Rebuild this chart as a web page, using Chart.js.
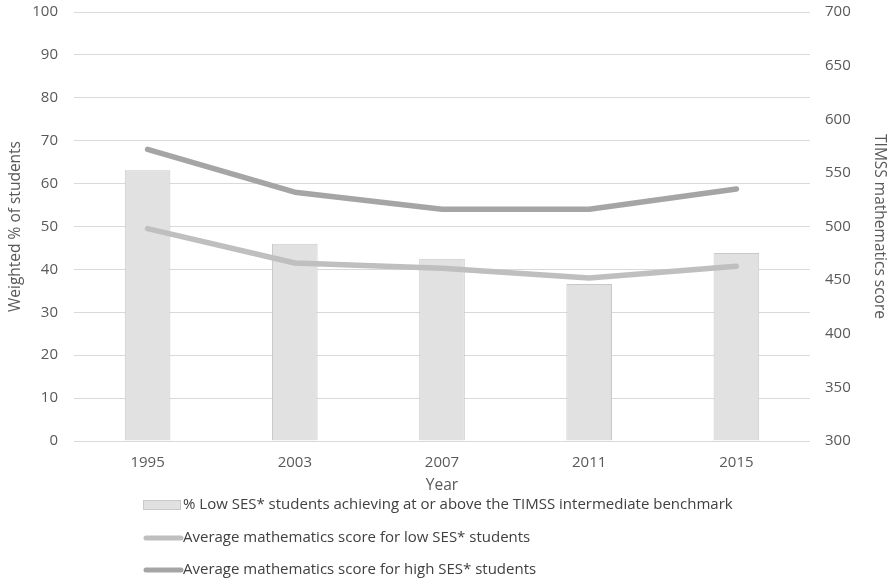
<!DOCTYPE html>
<html>
<head>
<meta charset="utf-8">
<script src="https://cdn.jsdelivr.net/npm/chart.js@4.4.1/dist/chart.umd.min.js"></script>
<style>
    html, body { margin: 0; padding: 0; background: #ffffff; }
    #wrap { width: 893px; height: 583px; }
</style>
</head>
<body>
<div id="wrap"><canvas id="chart" width="893" height="583"></canvas></div>
<script>
// Chart data
const years = ['1995', '2003', '2007', '2011', '2015'];
const pctLowSES = [63.1, 46.0, 42.5, 36.6, 43.8];
const scoreLowSES = [498, 466, 461, 452, 463];
const scoreHighSES = [572, 532, 516, 516, 535];

const seriesLabels = [
    '% Low SES* students achieving at or above the TIMSS intermediate benchmark',
    'Average mathematics score for low SES* students',
    'Average mathematics score for high SES* students'
];

const textColor = '#595959';
const gridColor = '#d9d9d9';
const fontFamily = "'Open Sans', 'DejaVu Sans', sans-serif";

// Legend drawn as a vertical list under the x axis title
const stackedLegend = {
    id: 'stackedLegend',
    afterDraw(chart) {
        const ctx = chart.ctx;
        const x0 = 143;
        const rows = [505, 538, 570];
        ctx.save();
        ctx.font = '15px ' + fontFamily;
        ctx.textBaseline = 'middle';
        ctx.textAlign = 'left';
        chart.data.datasets.forEach((ds, i) => {
            const y = rows[i];
            if (ds.type === 'bar') {
                ctx.fillStyle = ds.backgroundColor;
                ctx.fillRect(x0, y - 5, 38, 10);
                ctx.strokeStyle = ds.borderColor;
                ctx.lineWidth = 1;
                ctx.strokeRect(x0 + 0.5, y - 4.5, 37, 9);
            } else {
                ctx.strokeStyle = ds.borderColor;
                ctx.lineWidth = 5;
                ctx.lineCap = 'round';
                ctx.beginPath();
                ctx.moveTo(x0 + 3, y);
                ctx.lineTo(x0 + 38, y);
                ctx.stroke();
            }
            ctx.fillStyle = '#404040';
            ctx.fillText(ds.label, x0 + 40, y);
        });
        ctx.restore();
    }
};

// Fix the side axis widths, and stop tick padding from pushing the plot top down
const fixSideAxis = (width) => (scale) => {
    scale.width = width;
    scale.paddingTop = 12;
    scale.paddingBottom = 0;
};

document.addEventListener('DOMContentLoaded', () => {
    const ctx = document.getElementById('chart');

    new Chart(ctx, {
        data: {
            labels: years,
            datasets: [
                {
                    type: 'bar',
                    label: seriesLabels[0],
                    data: pctLowSES,
                    yAxisID: 'y',
                    backgroundColor: '#e1e1e1',
                    borderColor: '#c9c9c9',
                    borderWidth: 1,
                    barPercentage: 0.31,
                    categoryPercentage: 1,
                    order: 3
                },
                {
                    type: 'line',
                    label: seriesLabels[1],
                    data: scoreLowSES,
                    yAxisID: 'y1',
                    borderColor: '#bfbfbf',
                    backgroundColor: '#bfbfbf',
                    borderWidth: 5.5,
                    borderCapStyle: 'round',
                    borderJoinStyle: 'round',
                    pointRadius: 0,
                    tension: 0,
                    order: 2
                },
                {
                    type: 'line',
                    label: seriesLabels[2],
                    data: scoreHighSES,
                    yAxisID: 'y1',
                    borderColor: '#a5a5a5',
                    backgroundColor: '#a5a5a5',
                    borderWidth: 5.5,
                    borderCapStyle: 'round',
                    borderJoinStyle: 'round',
                    pointRadius: 0,
                    tension: 0,
                    order: 1
                }
            ]
        },
        options: {
            responsive: false,
            animation: false,
            devicePixelRatio: 1,
            layout: { padding: 0 },
            plugins: {
                legend: { display: false },
                tooltip: { enabled: false }
            },
            scales: {
                x: {
                    offset: true,
                    grid: { display: false, drawTicks: false },
                    border: { display: false },
                    ticks: {
                        color: textColor,
                        padding: 13,
                        font: { family: fontFamily, size: 15 }
                    },
                    title: {
                        display: true,
                        text: 'Year',
                        color: textColor,
                        padding: { top: 0, bottom: 88 },
                        font: { family: fontFamily, size: 15.5 }
                    },
                    afterFit: (scale) => { scale.height = 142; }
                },
                y: {
                    position: 'left',
                    min: 0,
                    max: 100,
                    ticks: {
                        stepSize: 10,
                        color: textColor,
                        padding: 16,
                        font: { family: fontFamily, size: 15 }
                    },
                    grid: { color: gridColor, lineWidth: 1, drawTicks: false },
                    border: { display: false },
                    title: {
                        display: true,
                        text: 'Weighted % of students',
                        color: textColor,
                        padding: { top: 6, bottom: 0 },
                        font: { family: fontFamily, size: 15.5 }
                    },
                    afterFit: fixSideAxis(74)
                },
                y1: {
                    position: 'right',
                    min: 300,
                    max: 700,
                    ticks: {
                        stepSize: 50,
                        color: textColor,
                        padding: 15,
                        font: { family: fontFamily, size: 15 }
                    },
                    grid: { display: false, drawTicks: false },
                    border: { display: false },
                    title: {
                        display: true,
                        text: 'TIMSS mathematics score',
                        color: textColor,
                        padding: { top: 4, bottom: 0 },
                        font: { family: fontFamily, size: 15.5 }
                    },
                    afterFit: fixSideAxis(83)
                }
            }
        },
        plugins: [stackedLegend]
    });
});
</script>
</body>
</html>
